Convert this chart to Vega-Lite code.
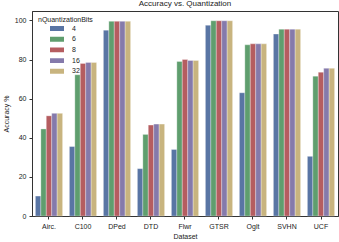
{
  "$schema": "https://vega.github.io/schema/vega-lite/v6.json",
  "width": 306,
  "height": 205,
  "autosize": {"type": "none"},
  "padding": {"left": 32, "top": 11, "right": 1, "bottom": 26},
  "background": "white",
  "title": {"text": "Accuracy vs. Quantization", "font": "Liberation Sans", "fontSize": 8, "fontWeight": "normal", "color": "#222", "offset": 3},
  "config": {
    "view": {"stroke": "#333", "strokeWidth": 1},
    "font": "Liberation Sans"
  },
  "data": {"values": [
    {"d": "Airc.", "b": "4", "v": 10.2}, {"d": "Airc.", "b": "6", "v": 44.5}, {"d": "Airc.", "b": "8", "v": 51.2}, {"d": "Airc.", "b": "16", "v": 52.5}, {"d": "Airc.", "b": "32", "v": 52.5},
    {"d": "C100", "b": "4", "v": 35.5}, {"d": "C100", "b": "6", "v": 72.2}, {"d": "C100", "b": "8", "v": 78.0}, {"d": "C100", "b": "16", "v": 78.5}, {"d": "C100", "b": "32", "v": 78.5},
    {"d": "DPed", "b": "4", "v": 95.0}, {"d": "DPed", "b": "6", "v": 99.5}, {"d": "DPed", "b": "8", "v": 99.5}, {"d": "DPed", "b": "16", "v": 99.5}, {"d": "DPed", "b": "32", "v": 99.5},
    {"d": "DTD", "b": "4", "v": 24.2}, {"d": "DTD", "b": "6", "v": 41.7}, {"d": "DTD", "b": "8", "v": 46.5}, {"d": "DTD", "b": "16", "v": 47.0}, {"d": "DTD", "b": "32", "v": 47.0},
    {"d": "Flwr", "b": "4", "v": 34.0}, {"d": "Flwr", "b": "6", "v": 79.0}, {"d": "Flwr", "b": "8", "v": 80.0}, {"d": "Flwr", "b": "16", "v": 79.5}, {"d": "Flwr", "b": "32", "v": 79.5},
    {"d": "GTSR", "b": "4", "v": 97.5}, {"d": "GTSR", "b": "6", "v": 99.8}, {"d": "GTSR", "b": "8", "v": 99.8}, {"d": "GTSR", "b": "16", "v": 99.8}, {"d": "GTSR", "b": "32", "v": 99.8},
    {"d": "Oglt", "b": "4", "v": 63.0}, {"d": "Oglt", "b": "6", "v": 87.5}, {"d": "Oglt", "b": "8", "v": 88.0}, {"d": "Oglt", "b": "16", "v": 88.0}, {"d": "Oglt", "b": "32", "v": 88.0},
    {"d": "SVHN", "b": "4", "v": 93.0}, {"d": "SVHN", "b": "6", "v": 95.5}, {"d": "SVHN", "b": "8", "v": 95.5}, {"d": "SVHN", "b": "16", "v": 95.5}, {"d": "SVHN", "b": "32", "v": 95.5},
    {"d": "UCF", "b": "4", "v": 30.5}, {"d": "UCF", "b": "6", "v": 71.5}, {"d": "UCF", "b": "8", "v": 73.5}, {"d": "UCF", "b": "16", "v": 75.5}, {"d": "UCF", "b": "32", "v": 75.5}
  ]},
  "mark": {"type": "bar", "stroke": "white", "strokeWidth": 0.5, "strokeOpacity": 0.6},
  "encoding": {
    "x": {
      "field": "d", "type": "nominal", "sort": null,
      "scale": {"paddingInner": 0.2, "paddingOuter": 0.1},
      "axis": {"title": "Dataset", "labelAngle": 0, "labelFontSize": 7, "labelColor": "#222", "titleFontSize": 7, "titleFontWeight": "normal", "titleColor": "#222", "titlePadding": 3, "tickSize": 3, "tickColor": "#333", "domainColor": "#333", "labelPadding": 3, "grid": false}
    },
    "xOffset": {"field": "b", "type": "nominal", "sort": ["4", "6", "8", "16", "32"]},
    "y": {
      "field": "v", "type": "quantitative",
      "scale": {"domain": [0, 104.8], "nice": false},
      "axis": {"title": "Accuracy %", "values": [0, 20, 40, 60, 80, 100], "labelFontSize": 7, "labelColor": "#222", "titleFontSize": 7, "titleFontWeight": "normal", "titleColor": "#222", "titlePadding": 5, "tickSize": 3, "tickColor": "#333", "domainColor": "#333", "labelPadding": 3, "grid": false}
    },
    "color": {
      "field": "b", "type": "nominal", "sort": ["4", "6", "8", "16", "32"],
      "scale": {"domain": ["4", "6", "8", "16", "32"], "range": ["#5975a4", "#5f9e6e", "#b55d60", "#857aab", "#c8b47f"]},
      "legend": {
        "title": "nQuantizationBits", "orient": "none", "legendX": 6, "legendY": 5,
        "titleFontSize": 7, "titleFontWeight": "normal", "titleColor": "#222", "titlePadding": 2,
        "labelFontSize": 7, "labelColor": "#222", "labelOffset": 8,
        "symbolType": "M-1,-0.35H1V0.35H-1Z", "symbolSize": 196, "symbolStrokeWidth": 0, "symbolOffset": 12,
        "clipHeight": 7, "rowPadding": 2.7
      }
    }
  }
}
